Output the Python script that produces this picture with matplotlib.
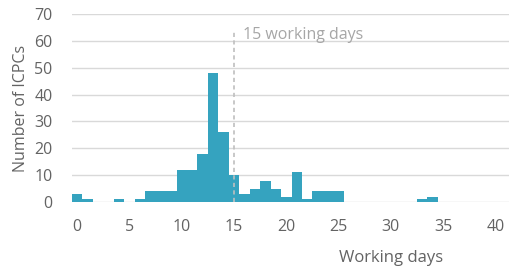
import matplotlib
matplotlib.use('Agg')
import matplotlib.pyplot as plt

# histogram of working days per ICPC (counts)
days = list(range(0, 41))
counts = [3, 1, 0, 0, 1, 0, 1, 4, 4, 4,
          12, 12, 18, 48, 26, 10, 3, 5, 8, 5,
          2, 11, 1, 4, 4, 4, 0, 0, 0, 0,
          0, 0, 0, 1, 2, 0, 0, 0, 0, 0,
          0]
x_ticks = [0, 5, 10, 15, 20, 25, 30, 35, 40]
y_ticks = [0, 10, 20, 30, 40, 50, 60, 70]
cutoff = 15

BAR_COLOR = '#35A3BF'
TEXT_GRAY = '#636363'
GRID_GRAY = '#D9D9D9'

plt.rcParams['font.family'] = ['Open Sans', 'DejaVu Sans']

fig = plt.figure(figsize=(5.10, 2.68), dpi=100)
ax = fig.add_axes([72 / 510, 1 - 202 / 268, (510 - 72) / 510, (202 - 14) / 268])

ax.bar(days, counts, width=1.0, color=BAR_COLOR, linewidth=0, zorder=3)

ax.set_xlim(-0.5, 41.4)
ax.set_ylim(0, 70)
ax.set_xticks(x_ticks)
ax.set_yticks(y_ticks)
ax.grid(axis='y', color=GRID_GRAY, linewidth=1.0, zorder=0)
ax.set_axisbelow(True)
for side in ['top', 'right', 'left', 'bottom']:
    ax.spines[side].set_visible(False)
ax.tick_params(axis='both', length=0, colors=TEXT_GRAY, labelsize=11.5)
ax.tick_params(axis='x', pad=12)
ax.tick_params(axis='y', pad=14)

# 15 working days marker
ax.axvline(cutoff, ymin=0, ymax=0.905, color='#BFBFBF', linestyle=(0, (2.5, 2)),
           linewidth=1.2, zorder=4)
ax.text(cutoff + 0.9, 62, '15 working days', color='#A6A6A6', fontsize=11.5,
        va='center', ha='left')

ax.set_ylabel('Number of ICPCs', color=TEXT_GRAY, fontsize=11.5, labelpad=4)
fig.text(391 / 510, 1 - 258 / 268, 'Working days', color=TEXT_GRAY,
         fontsize=12, ha='center', va='center')

plt.savefig('out.png', dpi=100, facecolor='white')
plt.close()
